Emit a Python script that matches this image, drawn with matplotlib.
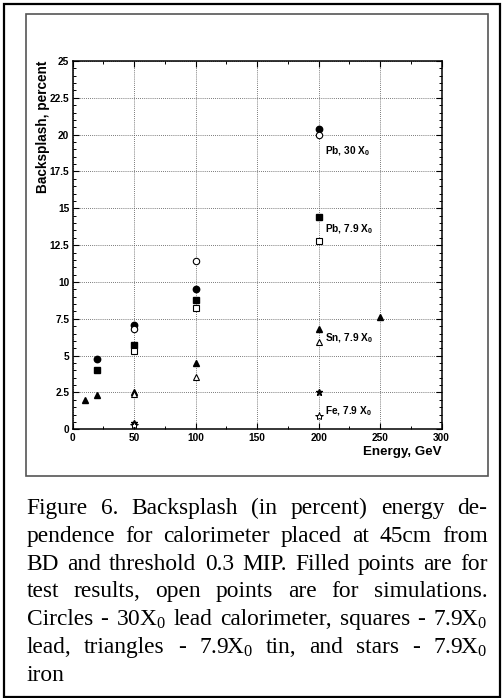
import matplotlib
matplotlib.use("Agg")
import matplotlib.pyplot as plt
from matplotlib.patches import Rectangle
from matplotlib.ticker import MultipleLocator, FixedLocator, FixedFormatter

plt.rcParams["mathtext.fontset"] = "custom"
plt.rcParams["mathtext.rm"] = "Liberation Serif"
plt.rcParams["mathtext.bf"] = "Liberation Sans:bold"

# ---- data: backsplash (percent) vs beam energy (GeV) ----
pb30_test_e = [20, 50, 100, 200]
pb30_test_b = [4.8, 7.1, 9.5, 20.4]
pb30_sim_e = [50, 100, 200]
pb30_sim_b = [6.8, 11.4, 19.95]

pb79_test_e = [20, 50, 100, 200]
pb79_test_b = [4.0, 5.7, 8.8, 14.4]
pb79_sim_e = [50, 100, 200]
pb79_sim_b = [5.3, 8.2, 12.8]

sn79_test_e = [10, 20, 50, 100, 200, 250]
sn79_test_b = [2.0, 2.3, 2.55, 4.5, 6.8, 7.6]
sn79_sim_e = [50, 100, 200]
sn79_sim_b = [2.4, 3.55, 5.9]

fe79_test_e = [50, 200]
fe79_test_b = [0.45, 2.5]
fe79_sim_e = [50, 200]
fe79_sim_b = [0.3, 0.9]

y_ticks = [0, 2.5, 5, 7.5, 10, 12.5, 15, 17.5, 20, 22.5, 25]
y_tick_labels = ["0", "2.5", "5", "7.5", "10", "12.5", "15", "17.5", "20", "22.5", "25"]
x_ticks = [0, 50, 100, 150, 200, 250, 300]
x_tick_labels = ["0", "50", "100", "150", "200", "250", "300"]

curve_labels = ["Pb, 30 X$_\\mathbf{0}$", "Pb, 7.9 X$_\\mathbf{0}$",
                "Sn, 7.9 X$_\\mathbf{0}$", "Fe, 7.9 X$_\\mathbf{0}$"]
curve_label_pos = [(205, 18.9), (205, 13.6), (205, 6.15), (205, 1.25)]

caption_lines = [
    "Figure 6. Backsplash (in percent) energy de-",
    "pendence for calorimeter placed at 45cm from",
    "BD and threshold 0.3 MIP. Filled points are for",
    "test results, open points are for simulations.",
    "Circles - 30X$_0$ lead calorimeter, squares - 7.9X$_0$",
    "lead, triangles - 7.9X$_0$ tin, and stars - 7.9X$_0$",
    "iron",
]

W, H = 504, 698
fig = plt.figure(figsize=(W / 100, H / 100), dpi=100)
fig.patch.set_facecolor("white")


def fx(x):
    return x / W


def fy(y):
    return 1 - y / H


# frames
fig.patches.append(Rectangle((fx(4), fy(697)), fx(500) - fx(4), fy(4) - fy(697),
                             transform=fig.transFigure, fill=False,
                             edgecolor="black", linewidth=1.6))
fig.patches.append(Rectangle((fx(26), fy(476)), fx(488) - fx(26), fy(14) - fy(476),
                             transform=fig.transFigure, fill=False,
                             edgecolor="#555555", linewidth=1.2))

ax = fig.add_axes([fx(72.7), fy(429.3), fx(441.7) - fx(72.7), fy(61) - fy(429.3)])
ax.set_xlim(0, 300)
ax.set_ylim(0, 25)

ax.xaxis.set_major_locator(FixedLocator(x_ticks))
ax.xaxis.set_major_formatter(FixedFormatter(x_tick_labels))
ax.xaxis.set_minor_locator(MultipleLocator(25))
ax.yaxis.set_major_locator(FixedLocator(y_ticks))
ax.yaxis.set_major_formatter(FixedFormatter(y_tick_labels))
ax.yaxis.set_minor_locator(MultipleLocator(0.5))

ax.tick_params(which="both", direction="in", top=True, right=True, color="black")
ax.tick_params(which="major", length=4, width=0.8, pad=2.5, labelsize=7.3)
ax.tick_params(which="minor", length=2.2, width=0.7)
for lab in ax.get_xticklabels() + ax.get_yticklabels():
    lab.set_fontfamily("Liberation Sans")
    lab.set_fontweight("bold")
for sp in ax.spines.values():
    sp.set_linewidth(1.1)

ax.grid(True, which="major", linestyle=(0, (1, 1.5)), color="0.3", linewidth=0.6)
ax.set_axisbelow(True)

ms = 4.6
ax.plot(pb30_test_e, pb30_test_b, "o", color="black", ms=ms, ls="none")
ax.plot(pb30_sim_e, pb30_sim_b, "o", mfc="white", mec="black", mew=0.8, ms=ms, ls="none")
ax.plot(pb79_test_e, pb79_test_b, "s", color="black", ms=ms - 0.4, ls="none")
ax.plot(pb79_sim_e, pb79_sim_b, "s", mfc="white", mec="black", mew=0.8, ms=ms - 0.4, ls="none")
ax.plot(sn79_test_e, sn79_test_b, "^", color="black", ms=ms, ls="none")
ax.plot(sn79_sim_e, sn79_sim_b, "^", mfc="white", mec="black", mew=0.8, ms=ms, ls="none")
ax.plot(fe79_test_e, fe79_test_b, "*", color="black", ms=4.5, ls="none")
ax.plot(fe79_sim_e, fe79_sim_b, "*", mfc="white", mec="black", mew=0.7, ms=6, ls="none")

for lab, (x, y) in zip(curve_labels, curve_label_pos):
    ax.text(x, y, lab, fontsize=7.3, fontweight="bold", family="Liberation Sans",
            ha="left", va="center")

fig.text(fx(441.7), fy(452), "Energy, GeV", fontsize=9.6, fontweight="bold",
         family="Liberation Sans", ha="right", va="center")
fig.text(fx(43), fy(61), "Backsplash, percent", fontsize=9.8, fontweight="bold",
         family="Liberation Sans", rotation=90, ha="center", va="top")

# justified caption
renderer = fig.canvas.get_renderer()
left, right = 26.5, 487.5
fs = 16.8
space_px = None
for i, line in enumerate(caption_lines):
    yb = fy(514 + 27.8 * i)
    words = line.split(" ")
    texts = [fig.text(0, yb, w, fontsize=fs, family="Liberation Serif",
                      ha="left", va="baseline") for w in words]
    widths = [t.get_window_extent(renderer).width for t in texts]
    if i == len(caption_lines) - 1 or len(words) == 1:
        probe = fig.text(0, 0, "a a", fontsize=fs, family="Liberation Serif")
        pa = fig.text(0, 0, "aa", fontsize=fs, family="Liberation Serif")
        gap = probe.get_window_extent(renderer).width - pa.get_window_extent(renderer).width
        probe.remove()
        pa.remove()
    else:
        gap = (right - left - sum(widths)) / (len(words) - 1)
    x = left
    for t, w in zip(texts, widths):
        t.set_x(fx(x))
        x += w + gap

fig.savefig("out.png", dpi=100, facecolor="white")
